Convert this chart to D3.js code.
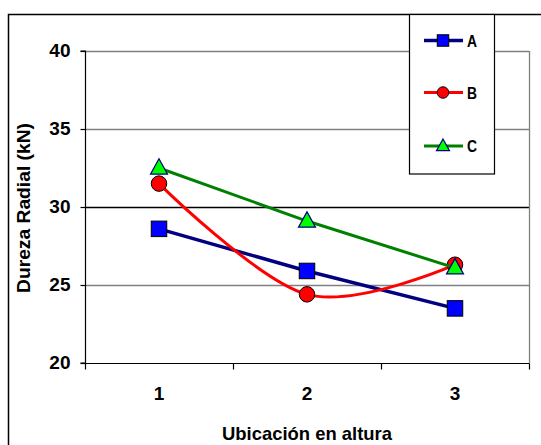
<!DOCTYPE html>
<html>
<head>
<meta charset="utf-8">
<script src="https://cdn.jsdelivr.net/npm/d3@7"></script>
<style>
  html, body { margin: 0; padding: 0; background: #fff; }
  svg { display: block; }
  text { font-family: "Liberation Sans", Arial, sans-serif; font-weight: bold; fill: #000; }
</style>
</head>
<body>
<svg id="chart" width="541" height="445"></svg>
<script>
// Radial hardness by height location
const categories = ["1", "2", "3"];
const seriesNames = ["A", "B", "C"];
const valuesA = [28.6, 25.9, 23.5];
const valuesB = [31.5, 24.4, 26.3];
const valuesC = [32.5, 29.1, 26.1];
const yTicks = [20, 25, 30, 35, 40];
const yTitle = "Dureza Radial (kN)";
const xTitle = "Ubicación en altura";

const svg = d3.select("#chart");
const W = 541, H = 445;
const plot = { left: 85, right: 529, top: 51, bottom: 363 };

const x = d3.scaleBand().domain(categories).range([plot.left, plot.right]);
const y = d3.scaleLinear().domain([20, 40]).range([plot.bottom, plot.top]);

// outer chart frame (left and top edges visible)
svg.append("path")
  .attr("d", `M8.5,${H} L8.5,14.5 L${W},14.5`)
  .attr("fill", "none").attr("stroke", "#000").attr("stroke-width", 1.5);

// horizontal gridlines
svg.append("g").selectAll("line")
  .data(yTicks.filter(t => t > 20))
  .join("line")
  .attr("x1", plot.left).attr("x2", plot.right)
  .attr("y1", d => Math.round(y(d)) + 0.5).attr("y2", d => Math.round(y(d)) + 0.5)
  .attr("stroke", d => d === 30 ? "#000" : "#808080")
  .attr("stroke-width", 1.3);

// right edge of plot area
svg.append("line")
  .attr("x1", plot.right + 0.5).attr("x2", plot.right + 0.5)
  .attr("y1", plot.top).attr("y2", plot.bottom)
  .attr("stroke", "#808080").attr("stroke-width", 1.3);

// y axis
const yAxis = d3.axisLeft(y).tickValues(yTicks).tickSize(5).tickPadding(10);
const gy = svg.append("g").attr("transform", `translate(${plot.left + 0.5},0)`).call(yAxis);
gy.select(".domain").attr("stroke", "#000").attr("stroke-width", 1.2).attr("d", `M-5,${y(40)}H0V${y(20)}H-5`);
gy.selectAll(".tick line").attr("stroke", "#000").attr("stroke-width", 1.2);
gy.selectAll(".tick text")
  .attr("font-size", 19).attr("font-family", "Liberation Sans, Arial, sans-serif")
  .attr("font-weight", "bold").attr("fill", "#000").attr("dy", "0.3em");

// x axis with tick marks at category boundaries
const gx = svg.append("g").attr("transform", `translate(0,${plot.bottom + 0.5})`);
gx.append("line").attr("x1", plot.left).attr("x2", plot.right + 0.5)
  .attr("stroke", "#000").attr("stroke-width", 1.2);
const boundaries = categories.map(c => x(c)).concat([x(categories[categories.length - 1]) + x.bandwidth()]);
gx.selectAll("line.tk").data(boundaries).join("line").attr("class", "tk")
  .attr("x1", d => Math.round(d) + 0.5).attr("x2", d => Math.round(d) + 0.5)
  .attr("y1", 0).attr("y2", 6).attr("stroke", "#000").attr("stroke-width", 1.2);
gx.selectAll("text").data(categories).join("text")
  .attr("x", d => x(d) + x.bandwidth() / 2).attr("y", 36)
  .attr("text-anchor", "middle").attr("font-size", 19).text(d => d);

// axis titles
svg.append("text")
  .attr("transform", `translate(29.5,${(plot.top + plot.bottom) / 2 + 1}) rotate(-90)`)
  .attr("text-anchor", "middle").attr("font-size", 19)
  .attr("textLength", 170).attr("lengthAdjust", "spacingAndGlyphs")
  .text(yTitle);
svg.append("text")
  .attr("x", (plot.left + plot.right) / 2).attr("y", 440)
  .attr("text-anchor", "middle").attr("font-size", 19)
  .attr("textLength", 170).attr("lengthAdjust", "spacingAndGlyphs")
  .text(xTitle);

// series
const series = [
  { name: seriesNames[0], values: valuesA, color: "#000080", width: 3.5, marker: "square", fill: "#0000FF", mstroke: "#000000", curve: d3.curveLinear },
  { name: seriesNames[1], values: valuesB, color: "#FF0000", width: 3, marker: "circle", fill: "#FF0000", mstroke: "#000000", curve: d3.curveCardinal.tension(0) },
  { name: seriesNames[2], values: valuesC, color: "#008000", width: 3, marker: "triangle", fill: "#00FF00", mstroke: "#000080", curve: d3.curveLinear }
];

const cx = (i) => x(categories[i]) + x.bandwidth() / 2;

function drawMarker(g, type, px, py, size, fill, stroke) {
  if (type === "square") {
    g.append("rect").attr("x", px - size / 2).attr("y", py - size / 2)
      .attr("width", size).attr("height", size)
      .attr("fill", fill).attr("stroke", stroke).attr("stroke-width", 1);
  } else if (type === "circle") {
    g.append("circle").attr("cx", px).attr("cy", py).attr("r", size / 2)
      .attr("fill", fill).attr("stroke", stroke).attr("stroke-width", 1);
  } else {
    const h = size * 0.9;
    g.append("path")
      .attr("d", `M${px},${py - h * 0.6} L${px + size / 2},${py + h * 0.4} L${px - size / 2},${py + h * 0.4} Z`)
      .attr("fill", fill).attr("stroke", stroke).attr("stroke-width", 1.2);
  }
}

series.forEach(s => {
  const g = svg.append("g");
  const line = d3.line().x((d, i) => cx(i)).y(d => y(d)).curve(s.curve);
  g.append("path").attr("d", line(s.values))
    .attr("fill", "none").attr("stroke", s.color).attr("stroke-width", s.width)
    .attr("stroke-linejoin", "round");
  s.values.forEach((v, i) => drawMarker(g, s.marker, cx(i), y(v), s.marker === "triangle" ? 17 : 15.5, s.fill, s.mstroke));
});

// legend
const lg = svg.append("g");
lg.append("rect").attr("x", 409.5).attr("y", 14.5).attr("width", 85).attr("height", 159.5)
  .attr("fill", "#fff").attr("stroke", "#000").attr("stroke-width", 1.2);
const legendY = [40.5, 92.5, 146];
series.forEach((s, i) => {
  const ly = legendY[i];
  lg.append("line").attr("x1", 424).attr("x2", 463).attr("y1", ly).attr("y2", ly)
    .attr("stroke", s.color).attr("stroke-width", s.width);
  drawMarker(lg, s.marker, 443, ly, s.marker === "triangle" ? 13 : 11.5, s.fill, s.mstroke);
  lg.append("text").attr("x", 467).attr("y", ly).attr("dy", "0.36em")
    .attr("font-size", 17).attr("textLength", 10).attr("lengthAdjust", "spacingAndGlyphs")
    .text(s.name);
});
</script>
</body>
</html>
